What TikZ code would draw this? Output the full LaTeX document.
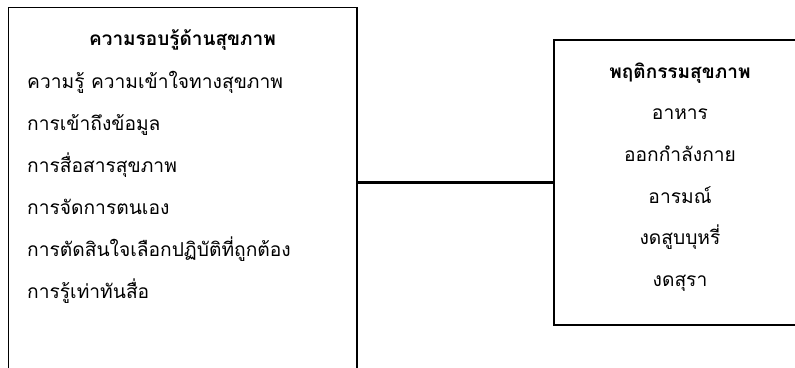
\documentclass[tikz,border=0pt]{standalone}
\usepackage{fontspec}
\newfontfamily\thaifont[Script=Thai]{Loma}
\begin{document}
\begin{tikzpicture}[x=1pt,y=-1pt,
  boxst/.style={draw=black,line width=1.3pt,rectangle,inner sep=0pt},
  titlest/.style={font=\thaifont\bfseries\fontsize{19}{22}\selectfont,inner sep=0pt,anchor=base},
  itemst/.style={font=\thaifont\fontsize{19.2}{22}\selectfont,inner sep=0pt,anchor=base west},
  ritemst/.style={font=\thaifont\fontsize{19.2}{22}\selectfont,inner sep=0pt,anchor=base},
  linkst/.style={draw=black,line width=2.4pt}]
\useasboundingbox (0,0) rectangle (795,367);
\clip (0,0) rectangle (795,367);
\node[boxst,minimum width=348.5pt,minimum height=400pt] (left) at (182.75,207.5) {};
\node[boxst,minimum width=260pt,minimum height=285pt] (right) at (684,182.5) {};
\draw[linkst] (right.west) -- (right.west -| left.east);
\node[titlest] (lt) at (182.5,45) {ความรอบรู้ด้านสุขภาพ};
\node[itemst] (l1) at (27,88) {ความรู้ ความเข้าใจทางสุขภาพ};
\node[itemst] (l2) at (27,130) {การเข้าถึงข้อมูล};
\node[itemst] (l3) at (27,172) {การสื่อสารสุขภาพ};
\node[itemst] (l4) at (27,214) {การจัดการตนเอง};
\node[itemst] (l5) at (27,256) {การตัดสินใจเลือกปฏิบัติที่ถูกต้อง};
\node[itemst] (l6) at (27,298) {การรู้เท่าทันสื่อ};
\node[titlest] (rt) at (680,78) {พฤติกรรมสุขภาพ};
\node[ritemst] (r1) at (680,119) {อาหาร};
\node[ritemst] (r2) at (680,161) {ออกกำลังกาย};
\node[ritemst] (r3) at (680,203) {อารมณ์};
\node[ritemst] (r4) at (680,244) {งดสูบบุหรี่};
\node[ritemst] (r5) at (680,286) {งดสุรา};
\end{tikzpicture}
\end{document}
